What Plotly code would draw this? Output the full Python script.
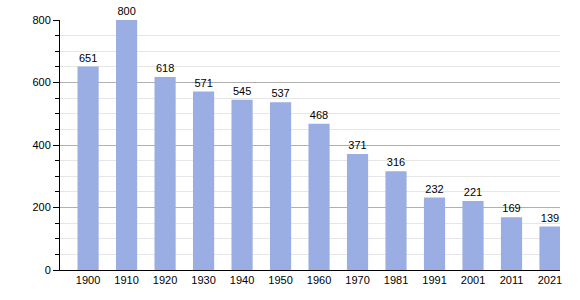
import plotly.graph_objects as go

years = ["1900", "1910", "1920", "1930", "1940", "1950", "1960", "1970", "1981", "1991", "2001", "2011", "2021"]
population = [651, 800, 618, 571, 545, 537, 468, 371, 316, 232, 221, 169, 139]
y_ticks = [0, 200, 400, 600, 800]

fig = go.Figure()
fig.add_trace(go.Bar(
    x=years, y=population,
    marker=dict(color="#9aaee3", line=dict(width=0)),
    width=0.55,
    text=[str(v) for v in population],
    textposition="outside",
    cliponaxis=False,
    textfont=dict(family="Liberation Sans, Arial, sans-serif", size=11, color="#000"),
))
fig.update_layout(
    width=580, height=300,
    margin=dict(l=60, r=20, t=20, b=30),
    paper_bgcolor="white", plot_bgcolor="white",
    showlegend=False,
    font=dict(family="Liberation Sans, Arial, sans-serif", size=11, color="#000"),
    bargap=0.45,
)
fig.update_xaxes(
    type="category", range=[-0.73, 12.26],
    showline=True, linecolor="#000", linewidth=1,
    ticks="", showgrid=False,
)
fig.update_yaxes(
    range=[0, 800], tickvals=y_ticks,
    showline=True, linecolor="#000", linewidth=1,
    ticks="outside", ticklen=6, tickcolor="#000",
    showgrid=True, gridcolor="#b0b0b0", gridwidth=1,
    zeroline=False,
    minor=dict(dtick=50, ticks="outside", ticklen=4, tickcolor="#000",
               showgrid=True, gridcolor="#e6e6e6", gridwidth=1),
)
fig.write_html("out.html")
